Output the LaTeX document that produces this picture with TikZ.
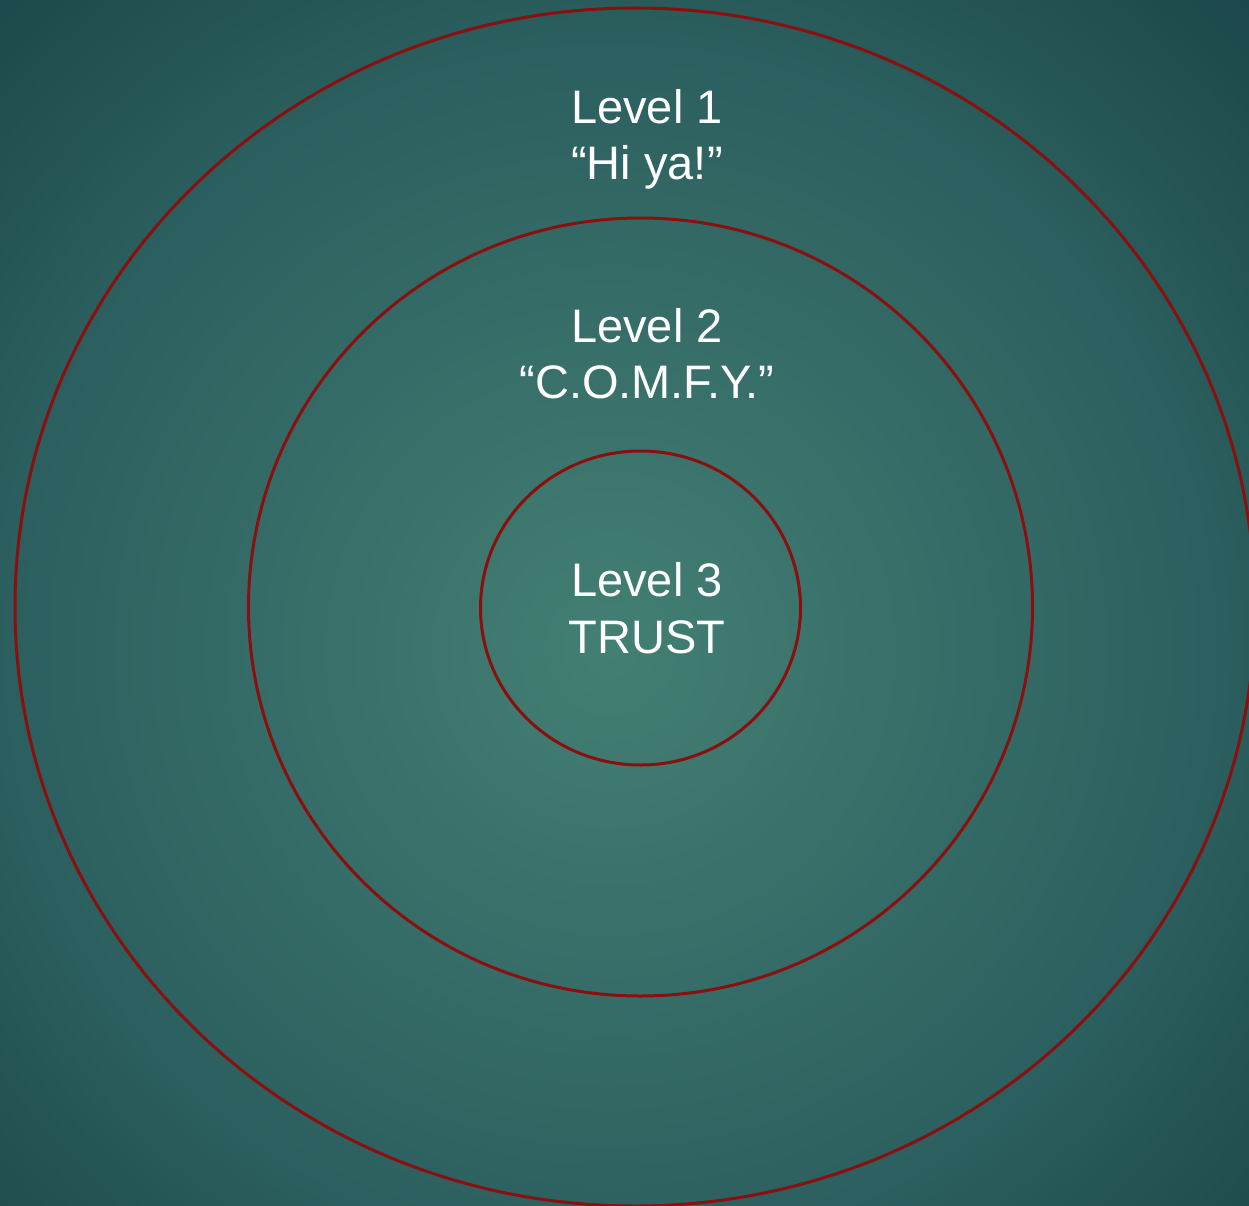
\documentclass[tikz,border=0pt]{standalone}
\usepackage{fontspec}
\setmainfont{Liberation Sans}
\definecolor{bgA}{HTML}{437F73}
\definecolor{bgB}{HTML}{2C5F5F}
\definecolor{bgC}{HTML}{20504F}
\definecolor{bgD}{HTML}{1A4449}
\definecolor{ring}{HTML}{8A0F0F}
\pgfdeclareradialshading{bgshade}{\pgfpoint{0bp}{0bp}}{color(0bp)=(bgA); color(15bp)=(bgB); color(20bp)=(bgC); color(24bp)=(bgD); color(50bp)=(bgD)}
\begin{document}
\begin{tikzpicture}[x=1pt,y=-1pt,
  ringline/.style={draw=ring,line width=3pt},
  lbl/.style={text=white,anchor=base,inner sep=0pt,font=\fontsize{47}{56}\selectfont}]
\useasboundingbox (0,0) rectangle (1249,1206);
\begin{scope}
\clip (0,0) rectangle (1249,1206);
\fill[bgD] (0,0) rectangle (1249,1206);
\shade[shading=bgshade] (610,650) circle[radius=1000];
\draw[ringline] (635,607) ellipse[x radius=620,y radius=599];
\end{scope}
\draw[ringline] (640.5,607) ellipse[x radius=392,y radius=389];
\draw[ringline] (640.5,608) ellipse[x radius=160,y radius=157];
\node[lbl] (l1a) at (647,124) {Level 1};
\node[lbl] (l1b) at (647,180) {“Hi ya!”};
\node[lbl] (l2a) at (647,342) {Level 2};
\node[lbl] (l2b) at (647,398) {“C.O.M.F.Y.”};
\node[lbl] (l3a) at (647,596) {Level 3};
\node[lbl] (l3b) at (647,653) {TRUST};
\end{tikzpicture}
\end{document}
